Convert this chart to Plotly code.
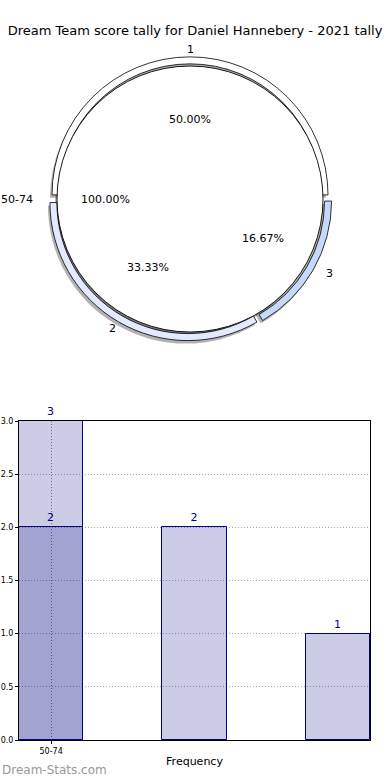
import math
import plotly.graph_objects as go

# ---------------- data ----------------
title_text = "Dream Team score tally for Daniel Hannebery - 2021 tally"

inner_labels = ["50-74"]
inner_values = [6]

ring_labels = ["1", "2", "3"]
ring_values = [3, 2, 1]
ring_colors = ["#ffffff", "#e3eaff", "#c6d9fb"]

bar_positions = [0, 1, 2]
bar_values = [3, 2, 1]
bar_overlay_positions = [0]
bar_overlay_values = [2]
x_tick_positions = [0]
x_tick_labels = ["50-74"]
y_ticks = [0.0, 0.5, 1.0, 1.5, 2.0, 2.5, 3.0]

# ---------------- layout constants ----------------
W, H = 390, 780
CX, CY = 190, 199          # pie centre in px
INNER_R = 133
RING_OUTER = 138
PULL = 0.03
FONT = "DejaVu Sans"


def dom(r, dx=0.0, dy=0.0):
    return dict(x=[(CX + dx - r) / W, (CX + dx + r) / W],
                y=[1 - (CY + dy + r) / H, 1 - (CY + dy - r) / H])


fig = go.Figure()

ring_dom_r = RING_OUTER * (1 + PULL)

# shadows
fig.add_trace(go.Pie(values=ring_values, labels=ring_labels, sort=False,
                     direction="counterclockwise", rotation=-90, pull=PULL,
                     domain=dom(ring_dom_r, -2, 3), textinfo="none",
                     hoverinfo="skip", showlegend=False,
                     marker=dict(colors=["rgba(0,0,0,0.3)"] * 3,
                                 line=dict(width=0))))
fig.add_trace(go.Pie(values=inner_values, labels=inner_labels, sort=False,
                     domain=dom(INNER_R, -2, 3), textinfo="none",
                     hoverinfo="skip", showlegend=False,
                     marker=dict(colors=["rgba(0,0,0,0.3)"],
                                 line=dict(width=0))))
# outer ring
fig.add_trace(go.Pie(values=ring_values, labels=ring_labels, sort=False,
                     direction="counterclockwise", rotation=-90, pull=PULL,
                     hole=INNER_R / RING_OUTER * 0.985,
                     domain=dom(ring_dom_r), textinfo="none",
                     showlegend=False,
                     marker=dict(colors=ring_colors,
                                 line=dict(color="#000000", width=0.8))))
# inner pie
fig.add_trace(go.Pie(values=inner_values, labels=inner_labels, sort=False,
                     domain=dom(INNER_R), textinfo="none", showlegend=False,
                     marker=dict(colors=["#ffffff"],
                                 line=dict(color="#000000", width=0.9))))

annotations = []
RX, RY = 141, 136  # label placement radii
PRX, PRY = 141, 132


def pie_labels(labels, values, start_deg):
    total = sum(values)
    cum = 0
    for lab, v in zip(labels, values):
        mid = start_deg + 360.0 * (cum + v / 2) / total
        cum += v
        t = math.radians(mid)
        c, s = math.cos(t), math.sin(t)
        lx = CX + 1.1 * RX * c
        ly = CY - 1.1 * RY * s
        xa = "left" if c > 0.6 else ("right" if c < -0.6 else "center")
        annotations.append(dict(x=lx / W, y=1 - ly / H, xref="paper", yref="paper",
                                text=lab, showarrow=False, xanchor=xa,
                                yanchor="middle", font=dict(size=11, color="#000")))
        px = CX + 0.6 * PRX * c
        py = CY - 0.6 * PRY * s
        annotations.append(dict(x=px / W, y=1 - py / H, xref="paper", yref="paper",
                                text=f"{100.0 * v / total:.2f}%", showarrow=False,
                                xanchor="center", yanchor="middle",
                                font=dict(size=11, color="#000")))


pie_labels(ring_labels, ring_values, 0)
pie_labels(inner_labels, inner_values, 0)

# ---------------- bar chart ----------------
BAR_W = 0.448
fig.add_trace(go.Bar(x=bar_positions, y=bar_values, width=BAR_W,
                     marker=dict(color="rgba(0,0,128,0.2)",
                                 line=dict(color="#000080", width=1)),
                     text=[str(v) for v in bar_values], textposition="outside",
                     textfont=dict(color="#000080", size=11, family=FONT),
                     cliponaxis=False, showlegend=False, xaxis="x", yaxis="y"))
fig.add_trace(go.Bar(x=bar_overlay_positions, y=bar_overlay_values, width=BAR_W,
                     marker=dict(color="rgba(0,0,128,0.2)",
                                 line=dict(color="#000080", width=1)),
                     text=[str(v) for v in bar_overlay_values], textposition="outside",
                     textfont=dict(color="#000080", size=11, family=FONT),
                     cliponaxis=False, showlegend=False, xaxis="x", yaxis="y"))

annotations.append(dict(x=0, y=1 - 770 / H, xref="paper", yref="paper",
                        text="Dream-Stats.com", showarrow=False,
                        xanchor="left", yanchor="middle",
                        font=dict(size=12, color="#999999", family=FONT)))

fig.update_layout(
    width=W, height=H, autosize=False,
    margin=dict(l=0, r=0, t=0, b=0),
    paper_bgcolor="white", plot_bgcolor="white",
    font=dict(family=FONT, color="#000"),
    title=dict(text=title_text, x=0.5, xanchor="center", y=1 - 30 / H,
               yanchor="middle", font=dict(size=13, color="#000", family=FONT)),
    barmode="overlay", bargap=0,
    xaxis=dict(domain=[19 / W, 370 / W], range=[-BAR_W / 2, 2 + BAR_W / 2],
               tickvals=x_tick_positions, ticktext=x_tick_labels,
               tickfont=dict(size=8), ticks="outside", ticklen=3,
               tickcolor="#000", showline=True, linecolor="#000", linewidth=1,
               mirror=True, showgrid=True, gridcolor="#888888", griddash="1px,2px",
               gridwidth=1, zeroline=False, anchor="y", automargin=False,
               title=dict(text="Frequency", font=dict(size=11), standoff=2)),
    yaxis=dict(domain=[1 - 740 / H, 1 - 421 / H], range=[0, 3],
               tickvals=y_ticks, ticktext=[f"{v:.1f}" for v in y_ticks],
               tickfont=dict(size=8), ticks="outside", ticklen=3,
               tickcolor="#000", showline=True, linecolor="#000", linewidth=1,
               mirror=True, showgrid=True, gridcolor="#aaaaaa", griddash="1px,2px",
               gridwidth=1, zeroline=False, anchor="x", automargin=False),
    annotations=annotations,
)

fig.write_html("out.html", config={"displayModeBar": False},
               post_script="document.body.style.margin='0px';document.body.style.padding='0px';")
